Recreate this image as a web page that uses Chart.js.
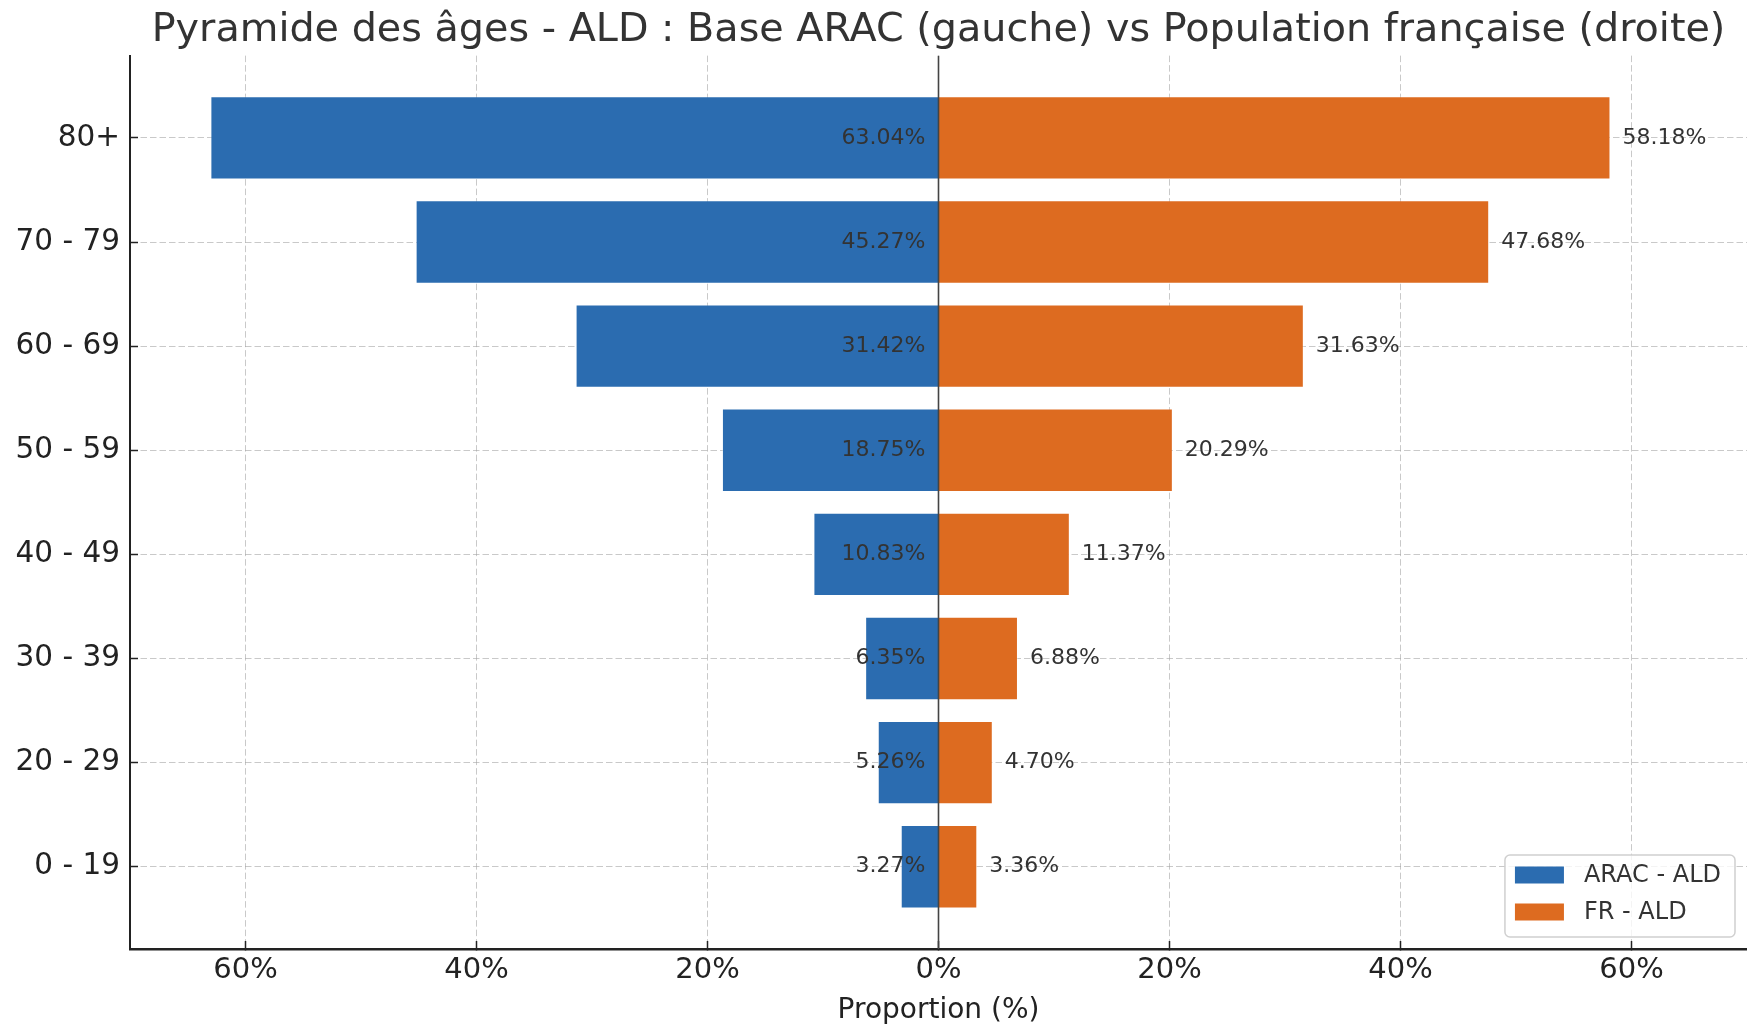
<!DOCTYPE html>
<html>
<head>
<meta charset="utf-8">
<script src="https://cdn.jsdelivr.net/npm/chart.js@4/dist/chart.umd.min.js"></script>
<style>
html,body{margin:0;padding:0;background:#fff;}
#wrap{width:1747px;height:1025px;position:relative;}
</style>
</head>
<body>
<div id="wrap"><canvas id="c" width="1747" height="1025"></canvas></div>
<script>
const categories = ['0 - 19','20 - 29','30 - 39','40 - 49','50 - 59','60 - 69','70 - 79','80+'];
const aracValues = [3.27, 5.26, 6.35, 10.83, 18.75, 31.42, 45.27, 63.04];
const frValues = [3.36, 4.70, 6.88, 11.37, 20.29, 31.63, 47.68, 58.18];
const xTickValues = [-60, -40, -20, 0, 20, 40, 60];
const seriesLabels = ['ARAC - ALD', 'FR - ALD'];
const seriesColors = ['#2b6cb0', '#dd6b20'];
const titleText = 'Pyramide des âges - ALD : Base ARAC (gauche) vs Population française (droite)';
const xTitle = 'Proportion (%)';

const FONT = "'DejaVu Sans', sans-serif";
Chart.defaults.font.family = FONT;
Chart.defaults.color = '#222';

const aracData = aracValues.map((v, i) => ({x: -v, y: i}));
const frData = frValues.map((v, i) => ({x: v, y: i}));

const overlayPlugin = {
  id: 'overlay',
  afterDraw(chart) {
    const ctx = chart.ctx;
    const xs = chart.scales.x;
    const area = chart.chartArea;
    const x0 = xs.getPixelForValue(0);
    ctx.save();
    // zero line
    ctx.strokeStyle = '#444';
    ctx.lineWidth = 1.6;
    ctx.beginPath();
    ctx.moveTo(x0, area.top);
    ctx.lineTo(x0, area.bottom);
    ctx.stroke();
    // value labels
    ctx.font = "22px " + FONT;
    ctx.fillStyle = '#333';
    ctx.textBaseline = 'middle';
    const vals = [aracValues, frValues];
    chart.data.datasets.forEach((ds, di) => {
      const meta = chart.getDatasetMeta(di);
      meta.data.forEach((el, i) => {
        const txt = vals[di][i].toFixed(2) + '%';
        if (di === 0) {
          ctx.textAlign = 'right';
          ctx.fillText(txt, x0 - 13, el.y);
        } else {
          ctx.textAlign = 'left';
          ctx.fillText(txt, el.x + 12, el.y);
        }
      });
    });
    // legend
    ctx.font = "24px " + FONT;
    let maxW = 0;
    chart.data.datasets.forEach(ds => { maxW = Math.max(maxW, ctx.measureText(ds.label).width); });
    const w = 79 + maxW + 14;
    const h = 82;
    const bx = area.right - 12 - w;
    const by = area.bottom - 12 - h;
    ctx.beginPath();
    ctx.roundRect(bx, by, w, h, 5);
    ctx.fillStyle = 'rgba(255,255,255,0.8)';
    ctx.fill();
    ctx.strokeStyle = '#d0d0d0';
    ctx.lineWidth = 1.5;
    ctx.stroke();
    chart.data.datasets.forEach((ds, di) => {
      const cy = by + 20 + di * 37;
      ctx.fillStyle = ds.backgroundColor;
      ctx.fillRect(bx + 10, cy - 8.5, 49, 17);
      ctx.fillStyle = '#333';
      ctx.textAlign = 'left';
      ctx.textBaseline = 'middle';
      ctx.fillText(ds.label, bx + 79, cy + 1);
    });
    ctx.restore();
  }
};

new Chart(document.getElementById('c'), {
  type: 'bar',
  data: {
    datasets: [
      {label: seriesLabels[0], data: aracData, backgroundColor: seriesColors[0]},
      {label: seriesLabels[1], data: frData, backgroundColor: seriesColors[1]}
    ]
  },
  options: {
    indexAxis: 'y',
    responsive: false,
    animation: false,
    grouped: false,
    barPercentage: 1,
    categoryPercentage: 0.8,
    borderWidth: 1,
    borderColor: 'rgba(255,255,255,0.35)',
    layout: {padding: 0},
    plugins: {
      legend: {display: false},
      tooltip: {enabled: false},
      title: {
        display: true,
        text: titleText,
        fullSize: false,
        color: '#333',
        font: {size: 39.7, weight: 'normal', family: FONT},
        padding: {top: 7, bottom: 1}
      }
    },
    scales: {
      x: {
        type: 'linear',
        min: -70,
        max: 70,
        z: 1,
        offset: false,
        afterBuildTicks: s => { s.ticks = xTickValues.map(v => ({value: v})); },
        afterFit: s => { s.height = 76; },
        ticks: {
          font: {size: 29},
          color: '#222',
          padding: 12,
          maxRotation: 0,
          callback: v => Math.abs(v) + '%'
        },
        grid: {
          offset: false,
          color: 'rgba(165,165,165,0.6)',
          lineWidth: 1,
          tickLength: -8,
          tickColor: '#222',
          tickWidth: 1.5,
          tickBorderDash: []
        },
        border: {display: true, color: '#222', width: 2.5, dash: [6.5, 3]},
        title: {
          display: true,
          text: xTitle,
          color: '#222',
          font: {size: 28},
          padding: {top: 0, bottom: -3}
        }
      },
      y: {
        type: 'linear',
        min: -0.79,
        max: 7.79,
        z: 1,
        offset: false,
        afterBuildTicks: s => { s.ticks = categories.map((c, i) => ({value: i})); },
        afterFit: s => { s.width = 130; },
        ticks: {
          font: {size: 29.5},
          color: '#222',
          padding: 18,
          callback: v => categories[Math.round(v)]
        },
        grid: {
          offset: false,
          color: 'rgba(165,165,165,0.6)',
          lineWidth: 1,
          tickLength: -8,
          tickColor: '#222',
          tickWidth: 1.5,
          tickBorderDash: []
        },
        border: {display: true, color: '#222', width: 2, dash: [6.5, 3]}
      }
    }
  },
  plugins: [overlayPlugin]
});
</script>
</body>
</html>
